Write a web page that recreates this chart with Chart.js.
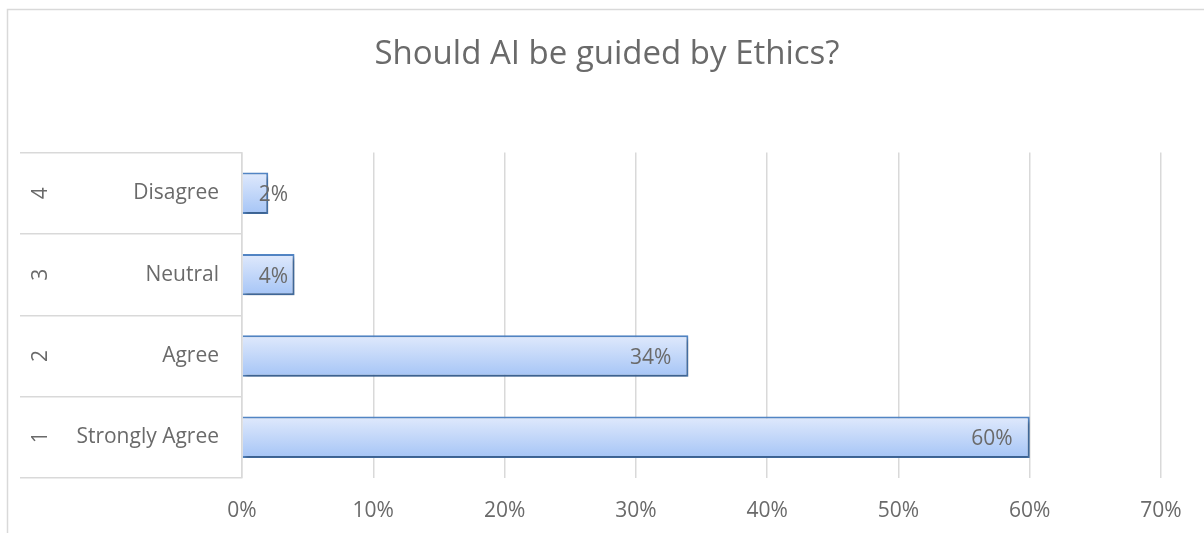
<!DOCTYPE html>
<html>
<head>
<meta charset="utf-8">
<script src="https://cdn.jsdelivr.net/npm/chart.js@4.4.1/dist/chart.umd.min.js"></script>
<style>
html, body { margin: 0; padding: 0; background: #fff; }
#wrap { position: relative; width: 1204px; height: 533px; }
</style>
</head>
<body>
<div id="wrap"><canvas id="grafico"></canvas></div>
<script>
// data, bottom row first (axis is reversed)
const categories = ["Strongly Agree", "Agree", "Neutral", "Disagree"];
const ranks = ["1", "2", "3", "4"];
const shares = [60, 34, 4, 2];
const xMin = 0;
const xMax = 70;
const xStep = 10;

const gris = "#6a6a6a";
const lineas = "#d9d9d9";

Chart.defaults.font.family = "'Open Sans', sans-serif";
Chart.defaults.color = gris;

// chart frame (top and left edge only, rest is cut off)
const marco = {
  id: "marco",
  beforeDraw(chart) {
    const ctx = chart.ctx;
    ctx.save();
    ctx.strokeStyle = lineas;
    ctx.lineWidth = 1.5;
    ctx.beginPath();
    ctx.moveTo(7.5, chart.height);
    ctx.lineTo(7.5, 9.5);
    ctx.lineTo(chart.width, 9.5);
    ctx.stroke();
    ctx.restore();
  }
};

// shadow under the bars + value labels
const etiquetas = {
  id: "etiquetas",
  beforeDatasetsDraw(chart) {
    const ctx = chart.ctx;
    ctx.save();
    ctx.shadowColor = "rgba(0,0,0,0.3)";
    ctx.shadowBlur = 4;
    ctx.shadowOffsetX = 2;
    ctx.shadowOffsetY = 3;
  },
  afterDatasetsDraw(chart) {
    const ctx = chart.ctx;
    ctx.restore();
    const meta = chart.getDatasetMeta(0);
    ctx.save();
    ctx.font = "21px 'Open Sans', sans-serif";
    ctx.fillStyle = gris;
    ctx.textBaseline = "middle";
    ctx.textAlign = "left";
    meta.data.forEach(function (bar, i) {
      const txt = shares[i] + "%";
      const w = ctx.measureText(txt).width;
      const x = Math.max(bar.base + 16, bar.x - 17 - w);
      ctx.fillText(txt, x, bar.y + 2);
    });
    ctx.restore();
  }
};

function relleno(c) {
  const chart = c.chart;
  const y = chart.scales.y;
  if (!chart.chartArea || !y) return "#c4d8f8";
  const centro = y.getPixelForValue(c.dataIndex);
  const medio = y.height / categories.length * 0.5 / 2;
  const g = chart.ctx.createLinearGradient(0, centro - medio, 0, centro + medio);
  g.addColorStop(0, "#dfe9fc");
  g.addColorStop(1, "#a6c5f6");
  return g;
}

new Chart(document.getElementById("grafico"), {
  type: "bar",
  data: {
    labels: categories,
    datasets: [{
      data: shares,
      backgroundColor: relleno,
      borderColor: "#5285c4",
      borderWidth: 2,
      barPercentage: 0.51,
      categoryPercentage: 1
    }]
  },
  plugins: [marco, etiquetas],
  options: {
    indexAxis: "y",
    responsive: true,
    maintainAspectRatio: false,
    animation: false,
    layout: { padding: { left: 10, right: 0, top: 0, bottom: 0 } },
    plugins: {
      legend: { display: false },
      tooltip: { enabled: false },
      title: {
        display: true,
        text: "Should AI be guided by Ethics?",
        color: gris,
        font: { size: 33, weight: "normal" },
        padding: { top: 35, bottom: 78 }
      }
    },
    scales: {
      x: {
        type: "linear",
        min: xMin,
        max: xMax,
        ticks: {
          stepSize: xStep,
          padding: 20,
          font: { size: 21 },
          callback: function (v) { return v + "%"; }
        },
        grid: { color: lineas, lineWidth: 1.5, drawTicks: false },
        border: { display: false },
        afterFit: function (s) { s.height = 55; }
      },
      y: {
        type: "category",
        reverse: true,
        offset: true,
        weight: 0,
        ticks: { font: { size: 21 }, padding: -199 },
        grid: { offset: true, drawOnChartArea: false, drawTicks: true, tickLength: 222, color: lineas, lineWidth: 1.5 },
        border: { display: true, color: lineas, width: 1.5 },
        afterFit: function (s) { s.width = 168; }
      },
      yNum: {
        type: "category",
        labels: ranks,
        position: "left",
        reverse: true,
        offset: true,
        weight: 1,
        ticks: { font: { size: 21 }, minRotation: 90, maxRotation: 90, crossAlign: "center", padding: 19 },
        grid: { display: false },
        border: { display: false },
        afterFit: function (s) { s.width = 64; }
      },
      yDer: {
        type: "category",
        position: "right",
        labels: [""],
        ticks: { display: false },
        grid: { display: false },
        border: { display: false },
        afterFit: function (s) { s.width = 43; }
      }
    }
  }
});
</script>
</body>
</html>
